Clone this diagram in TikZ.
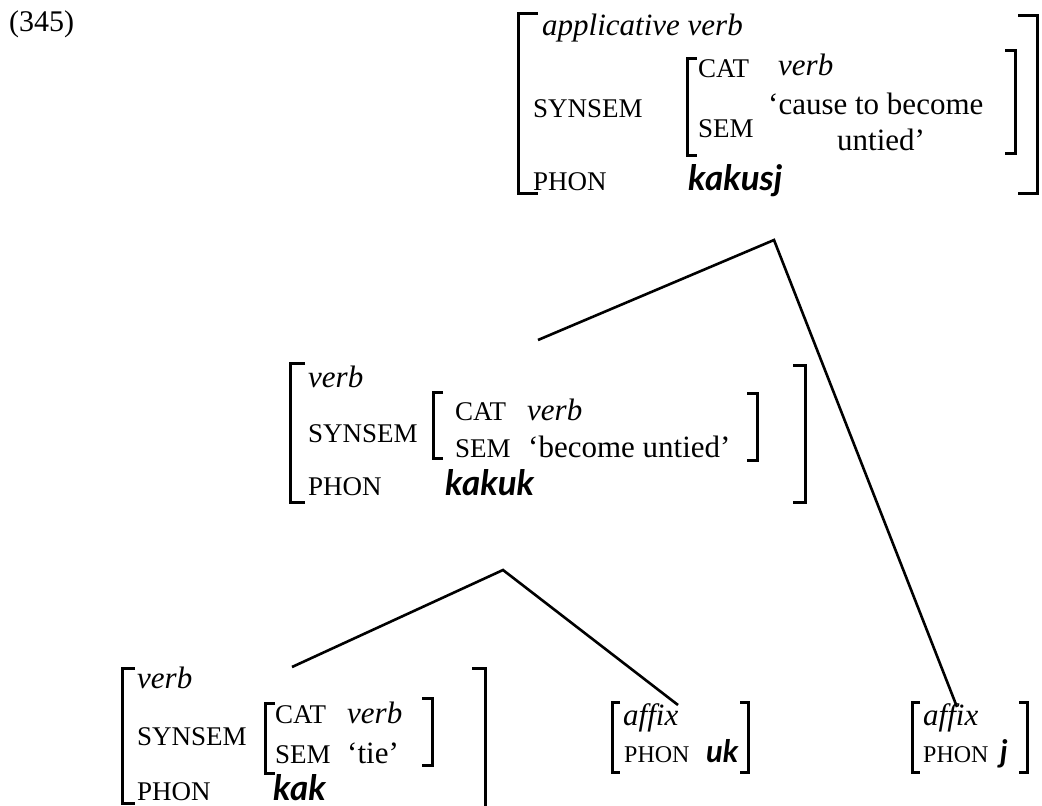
\documentclass[tikz,border=0pt]{standalone}
\usepackage{fontspec}
\setmainfont{Liberation Serif}
\newfontfamily\phonfont{Lato}
\begin{document}
\begin{tikzpicture}[x=1pt,y=-1pt,
  txt/.style={anchor=base west,inner sep=0pt,font=\fontsize{31}{31}\selectfont},
  it/.style={anchor=base west,inner sep=0pt,font=\fontsize{31}{31}\selectfont\itshape},
  lab/.style={anchor=base west,inner sep=0pt,font=\fontsize{27}{27}\selectfont},
  slab/.style={anchor=base west,inner sep=0pt,font=\fontsize{24}{24}\selectfont},
  ph/.style={anchor=base west,inner sep=0pt,font=\fontsize{35}{35}\selectfont\phonfont\bfseries\itshape},
  sph/.style={anchor=base west,inner sep=0pt,font=\fontsize{31}{31}\selectfont\phonfont\bfseries\itshape},
  brk/.style={line width=3pt,line join=miter},
  branch/.style={line width=2.6pt}]
\useasboundingbox (0,0) rectangle (1042,806);

% example number
\node[txt,font=\fontsize{30}{30}\selectfont] (ex) at (9,31) {(345)};

% ---- top AVM: applicative verb
\node[it]  (t1) at (542,35)  {applicative verb};
\node[lab] (t2) at (533,117) {SYNSEM};
\node[lab] (t3) at (698,77)  {CAT};
\node[it]  (t4) at (778,75)  {verb};
\node[lab] (t5) at (698,137) {SEM};
\node[txt] (t6) at (768,114) {‘cause to become};
\node[txt] (t7) at (837,150) {untied’};
\node[lab] (t8) at (533,190) {PHON};
\node[ph]  (t9) at (688,190) {kakusj};
\draw[brk] (538,13) -- (518,13) -- (518,193) -- (538,193);
\draw[brk] (1018,15) -- (1037,15) -- (1037,193) -- (1018,193);
\draw[brk] (697,58) -- (687,58) -- (687,155) -- (697,155);
\draw[brk] (1005,50) -- (1015,50) -- (1015,153) -- (1005,153);

% ---- middle AVM: verb kakuk
\node[it]  (m1) at (308,387) {verb};
\node[lab] (m2) at (308,442) {SYNSEM};
\node[lab] (m3) at (455,420) {CAT};
\node[it]  (m4) at (527,420) {verb};
\node[lab] (m5) at (455,457) {SEM};
\node[txt] (m6) at (528,457) {‘become untied’};
\node[lab] (m7) at (308,495) {PHON};
\node[ph]  (m8) at (445,495) {kakuk};
\draw[brk] (305,363) -- (290,363) -- (290,502) -- (305,502);
\draw[brk] (793,365) -- (805,365) -- (805,502) -- (793,502);
\draw[brk] (443,392) -- (433,392) -- (433,458) -- (443,458);
\draw[brk] (747,393) -- (757,393) -- (757,460) -- (747,460);

% ---- bottom-left AVM: verb kak
\node[it]  (b1) at (137,688) {verb};
\node[lab] (b2) at (137,745) {SYNSEM};
\node[lab] (b3) at (275,723) {CAT};
\node[it]  (b4) at (347,723) {verb};
\node[lab] (b5) at (275,763) {SEM};
\node[txt] (b6) at (347,763) {‘tie’};
\node[lab] (b7) at (137,800) {PHON};
\node[ph]  (b8) at (273,800) {kak};
\draw[brk] (135,668) -- (122,668) -- (122,803) -- (135,803);
\draw[brk] (472,668) -- (485,668) -- (485,810);
\draw[brk] (275,703) -- (265,703) -- (265,773) -- (275,773);
\draw[brk] (422,698) -- (432,698) -- (432,765) -- (422,765);

% ---- affix uk
\node[it]   (a1) at (623,725) {affix};
\node[slab] (a2) at (624,762) {PHON};
\node[sph]  (a3) at (706,762) {uk};
\draw[brk] (620,702) -- (612,702) -- (612,772) -- (620,772);
\draw[brk] (740,702) -- (748,702) -- (748,772) -- (740,772);

% ---- affix j
\node[it]   (c1) at (923,725) {affix};
\node[slab] (c2) at (923,762) {PHON};
\node[sph]  (c3) at (1000,762) {j};
\draw[brk] (920,702) -- (912,702) -- (912,772) -- (920,772);
\draw[brk] (1019,702) -- (1027,702) -- (1027,772) -- (1019,772);

% ---- tree branches
\coordinate (topfoot) at (774,240);
\coordinate (midhead) at (538,340);
\coordinate (affjhead) at (957,707);
\coordinate (midfoot) at (503,570);
\coordinate (kakhead) at (292,667);
\coordinate (affukhead) at (678,705);
\draw[branch] (midhead) -- (topfoot) -- (affjhead);
\draw[branch] (kakhead) -- (midfoot) -- (affukhead);
\end{tikzpicture}
\end{document}
